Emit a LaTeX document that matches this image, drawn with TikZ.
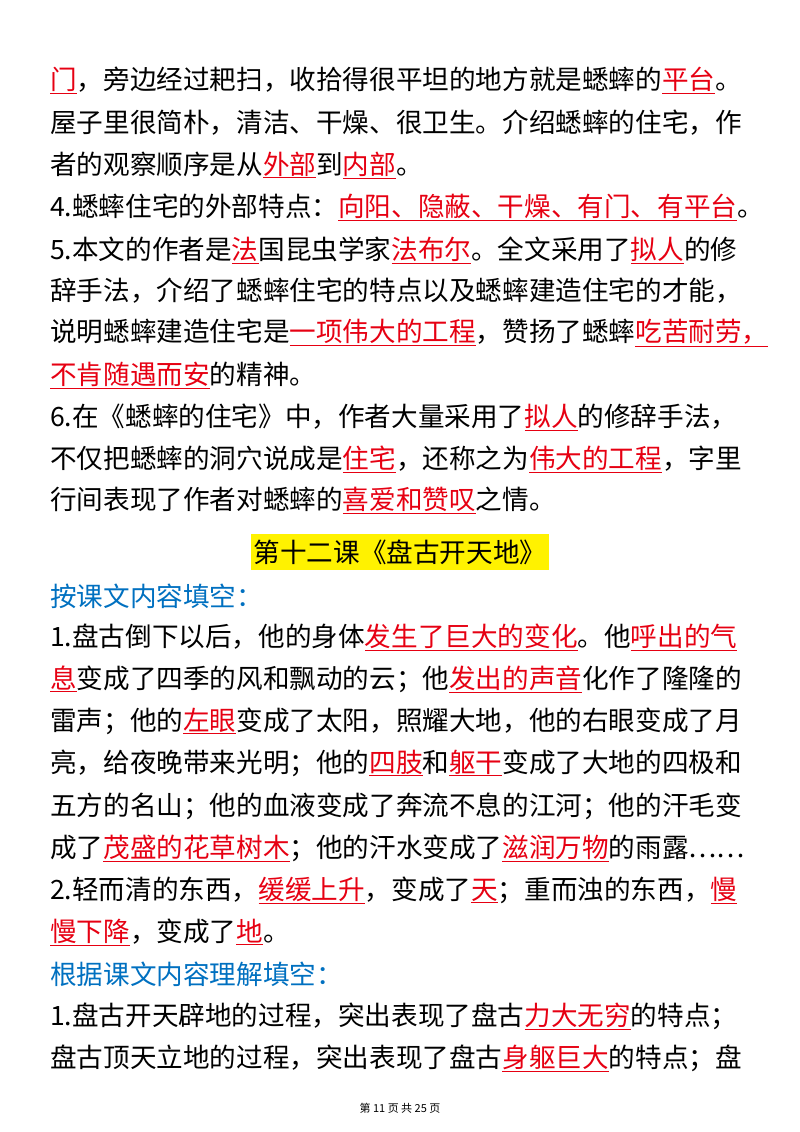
\documentclass[tikz,border=0pt]{standalone}
\usepackage{fontspec}
\setmainfont{Noto Sans CJK SC}[BoldFont={Noto Sans CJK SC Bold}]
\usepackage{xcolor}
\definecolor{ansred}{RGB}{230,0,18}
\definecolor{hblue}{RGB}{0,112,192}
\newcommand{\ans}[1]{\textcolor{ansred}{\underline{#1}}}
\begin{document}
\begin{tikzpicture}[x=1pt,y=-1pt,
  ln/.style={anchor=west,inner sep=0pt,font=\fontsize{26.6}{26.6}\selectfont},
  hd/.style={ln,text=hblue}]
\useasboundingbox (0,0) rectangle (800,1132);
\node[ln] (l1) at (50,80) {\ans{门}，旁边经过耙扫，收拾得很平坦的地方就是蟋蟀的\ans{平台}。};
\node[ln] (l2) at (50,123) {屋子里很简朴，清洁、干燥、很卫生。介绍蟋蟀的住宅，作};
\node[ln] (l3) at (50,165) {者的观察顺序是从\ans{外部}到\ans{内部}。};
\node[ln] (l4) at (50,207) {4.蟋蟀住宅的外部特点：\ans{向阳、隐蔽、干燥、有门、有平台}。};
\node[ln] (l5) at (50,250) {5.本文的作者是\ans{法}国昆虫学家\ans{法布尔}。全文采用了\ans{拟人}的修};
\node[ln] (l6) at (50,291) {辞手法，介绍了蟋蟀住宅的特点以及蟋蟀建造住宅的才能，};
\node[ln] (l7) at (50,333) {说明蟋蟀建造住宅是\ans{一项伟大的工程}，赞扬了蟋蟀\ans{吃苦耐劳，}};
\node[ln] (l8) at (50,375) {\ans{不肯随遇而安}的精神。};
\node[ln] (l9) at (50,417) {6.在《蟋蟀的住宅》中，作者大量采用了\ans{拟人}的修辞手法，};
\node[ln] (l10) at (50,459) {不仅把蟋蟀的洞穴说成是\ans{住宅}，还称之为\ans{伟大的工程}，字里};
\node[ln] (l11) at (50,500) {行间表现了作者对蟋蟀的\ans{喜爱和赞叹}之情。};
\node[ln,anchor=center,fill=yellow,inner xsep=3pt,inner ysep=6pt] (t) at (400,552) {第十二课《盘古开天地》};
\node[hd] (h1) at (50,596) {按课文内容填空：};
\node[ln] (m1) at (50,637) {1.盘古倒下以后，他的身体\ans{发生了巨大的变化}。他\ans{呼出的气}};
\node[ln] (m2) at (50,679) {\ans{息}变成了四季的风和飘动的云；他\ans{发出的声音}化作了隆隆的};
\node[ln] (m3) at (50,721) {雷声；他的\ans{左眼}变成了太阳，照耀大地，他的右眼变成了月};
\node[ln] (m4) at (50,763) {亮，给夜晚带来光明；他的\ans{四肢}和\ans{躯干}变成了大地的四极和};
\node[ln] (m5) at (50,806) {五方的名山；他的血液变成了奔流不息的江河；他的汗毛变};
\node[ln] (m6) at (50,848) {成了\ans{茂盛的花草树木}；他的汗水变成了\ans{滋润万物}的雨露⋯⋯};
\node[ln] (m7) at (50,890) {2.轻而清的东西，\ans{缓缓上升}，变成了\ans{天}；重而浊的东西，\ans{慢}};
\node[ln] (m8) at (50,932) {\ans{慢下降}，变成了\ans{地}。};
\node[hd] (h2) at (50,974) {根据课文内容理解填空：};
\node[ln] (n1) at (50,1016) {1.盘古开天辟地的过程，突出表现了盘古\ans{力大无穷}的特点；};
\node[ln] (n2) at (50,1058) {盘古顶天立地的过程，突出表现了盘古\ans{身躯巨大}的特点；盘};
\node[anchor=center,inner sep=0pt,font=\fontsize{11}{11}\selectfont] (f) at (400,1108) {第~11~页~共~25~页};
\end{tikzpicture}
\end{document}
